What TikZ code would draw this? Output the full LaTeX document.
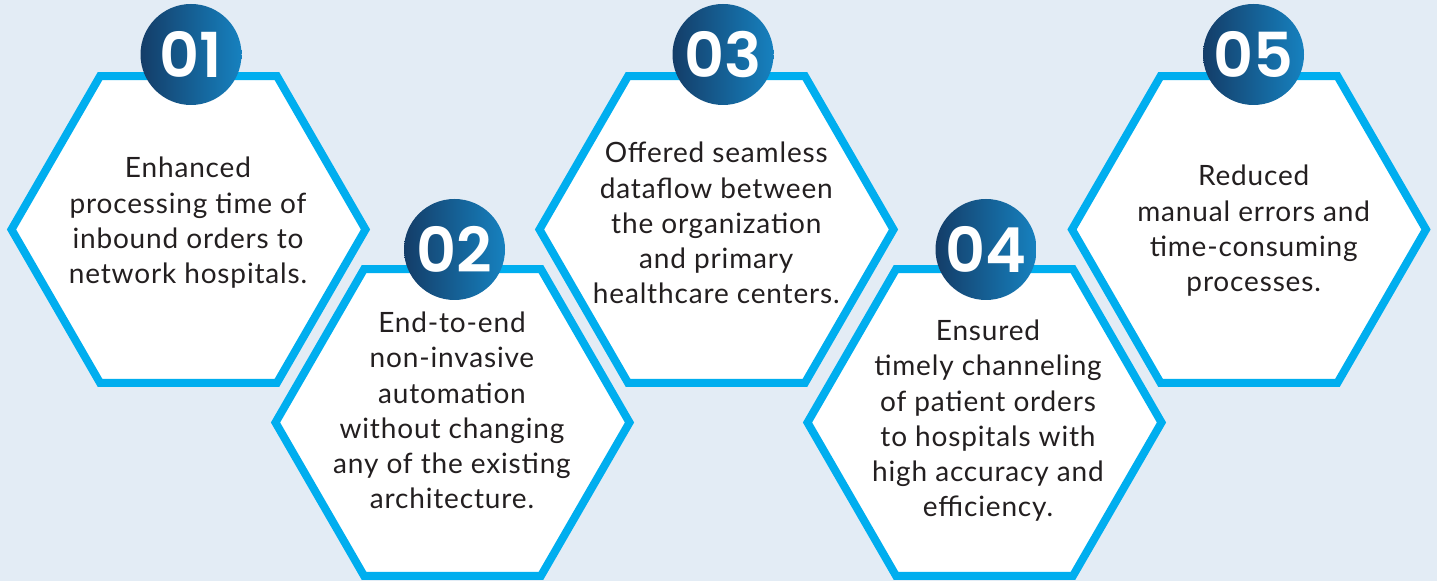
\documentclass[tikz,border=0pt]{standalone}
\usepackage{fontspec}
\setmainfont{Lato}[LetterSpace=3]
\newfontfamily\numfont{Poppins SemiBold}
\usetikzlibrary{shapes.geometric}
\definecolor{bg}{HTML}{E3ECF5}
\definecolor{cyanline}{HTML}{00AEEF}
\definecolor{navyL}{HTML}{143D68}
\definecolor{navyR}{HTML}{1681BF}
\definecolor{txt}{HTML}{231F20}
\newcommand{\blk}[1]{\parbox[t]{160pt}{\centering\fontsize{14}{17.6}\selectfont #1}}
\begin{document}
\begin{tikzpicture}[x=0.5pt,y=-0.5pt,
  hexa/.style={draw=cyanline, line width=4pt, fill=white, regular polygon, regular polygon sides=6, minimum size=177pt, inner sep=0pt, outer sep=0pt},
  badge/.style={circle, minimum size=50.5pt, inner sep=0pt, left color=navyL, right color=navyR, text=white, font=\numfont\fontsize{31}{31}\selectfont},
  body/.style={anchor=base, inner sep=0pt, text=txt}]
\fill[bg] (0,0) rectangle (1437,581);
\useasboundingbox (0,0) rectangle (1437,581);
% hexagons
\node[hexa] (h1) at (188.5,229.5) {};
\node[hexa] (h3) at (716.5,229.5) {};
\node[hexa] (h5) at (1249,229.5) {};
\node[hexa] (h2) at (452.5,422.5) {};
\node[hexa] (h4) at (984.5,422.5) {};
% badges
\node[badge] (b1) at (191,54.5) {01};
\node[badge] (b2) at (454.5,249.5) {02};
\node[badge] (b3) at (723,54.5) {03};
\node[badge] (b4) at (986,249.5) {04};
\node[badge] (b5) at (1253.5,54.5) {05};
% texts
\node[body] (t1) at (188,178) {\blk{Enhanced\\processing time of\\inbound orders to\\network hospitals.}};
\node[body] (t2) at (452,332.7) {\blk{End-to-end\\non-invasive\\automation\\without changing\\any of the existing\\architecture.}};
\node[body] (t3) at (716.3,163) {\blk{Offered seamless\\dataflow between\\the organization\\and primary\\healthcare centers.}};
\node[body] (t4) at (988,340.7) {\blk{Ensured\\timely channeling\\of patient orders\\to hospitals with\\high accuracy and\\efficiency.}};
\node[body] (t5) at (1253.7,186) {\blk{Reduced\\manual errors and\\time-consuming\\processes.}};
\end{tikzpicture}
\end{document}
